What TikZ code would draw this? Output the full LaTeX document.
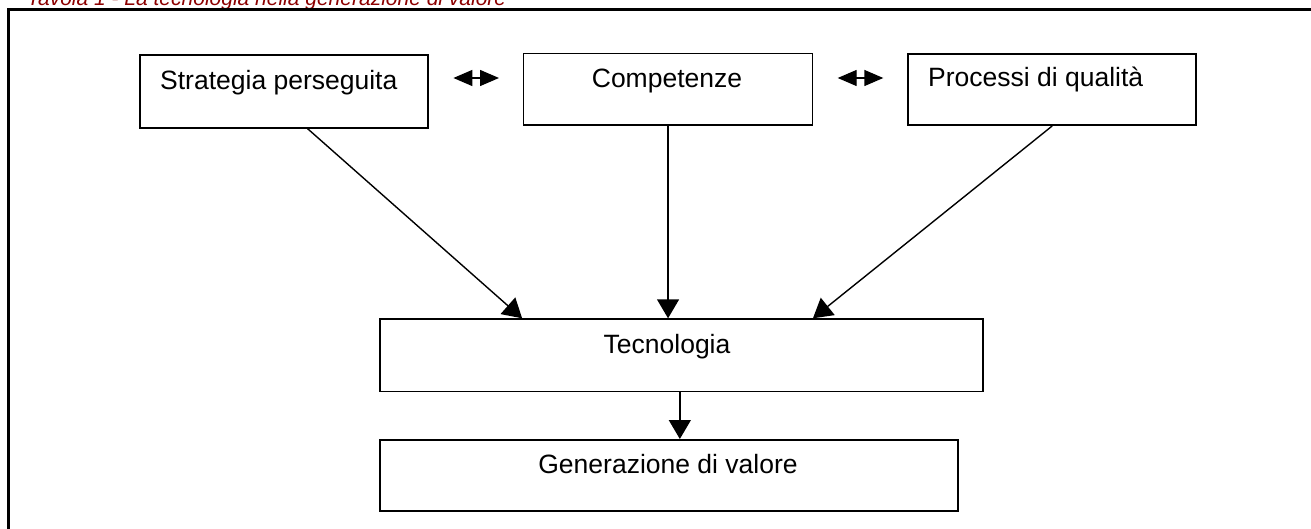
\documentclass[tikz,border=0pt]{standalone}
\usepackage{fontspec}
\setmainfont{Liberation Sans}
\usetikzlibrary{arrows.meta,calc}
\definecolor{titlered}{RGB}{140,0,0}
\begin{document}
\begin{tikzpicture}[x=1pt,y=-1pt,
  box/.style={draw, line width=1.7pt, minimum width=#1, inner sep=0, anchor=north west},
  lbl/.style={inner sep=0, anchor=base west, font=\fontsize{26.5}{30}\selectfont},
  clbl/.style={inner sep=0, anchor=base, font=\fontsize{26.5}{30}\selectfont},
  arr/.style={line width=1.4pt, -{Triangle[length=19pt,width=22pt]}},
  dbl/.style={line width=1.4pt, {Triangle[length=19pt,width=16pt]}-{Triangle[length=19pt,width=16pt]}}]
\useasboundingbox (0,0) rectangle (1311,529);
\clip (0,0) rectangle (1311,529);
\node[inner sep=0, anchor=base west, text=titlered, font=\fontsize{21}{24}\selectfont\itshape] (title) at (27,5.5) {Tavola 1 - La tecnologia nella generazione di valore};
\draw[line width=2.6pt] (8.5,9.5) rectangle (1340,560);
% boxes
\node[box=288pt, minimum height=73pt] (s) at (139,54) {};
\node[box=289pt, minimum height=71.6pt] (c) at (522.7,52.7) {};
\node[box=288pt, minimum height=71pt] (p) at (907.3,53.3) {};
\node[box=603pt, minimum height=72.4pt] (t) at (379,318.3) {};
\node[box=578pt, minimum height=71pt] (g) at (379,439) {};
% texts
\node[lbl] (st) at (160,90) {Strategia perseguita};
\node[clbl] (ct) at (667,88) {Competenze};
\node[lbl] (pt) at (928,87) {Processi di qualità};
\node[clbl] (tt) at (667,353) {Tecnologia};
\node[clbl] (gt) at (668,473.5) {Generazione di valore};
% connectors
\coordinate (sa) at ($(s.south west)!0.582!(s.south east)$);
\coordinate (ta) at ($(t.north west)!0.2367!(t.north east)$);
\coordinate (tc) at ($(t.north west)!0.7176!(t.north east)$);
\coordinate (tb) at ($(t.south west)!0.4975!(t.south east)$);
\draw[arr] (sa) -- (ta);
\draw[arr] (c.south) -- (c.south |- t.north);
\draw[arr] (p.south) -- (tc);
\draw[arr] (tb) -- (tb |- g.north);
\coordinate (row) at (0,78);
\draw[dbl, shorten <=24.7pt, shorten >=23.7pt] (s.east |- row) -- (c.west |- row);
\draw[dbl, shorten <=24.3pt, shorten >=24pt] (c.east |- row) -- (p.west |- row);
\end{tikzpicture}
\end{document}
